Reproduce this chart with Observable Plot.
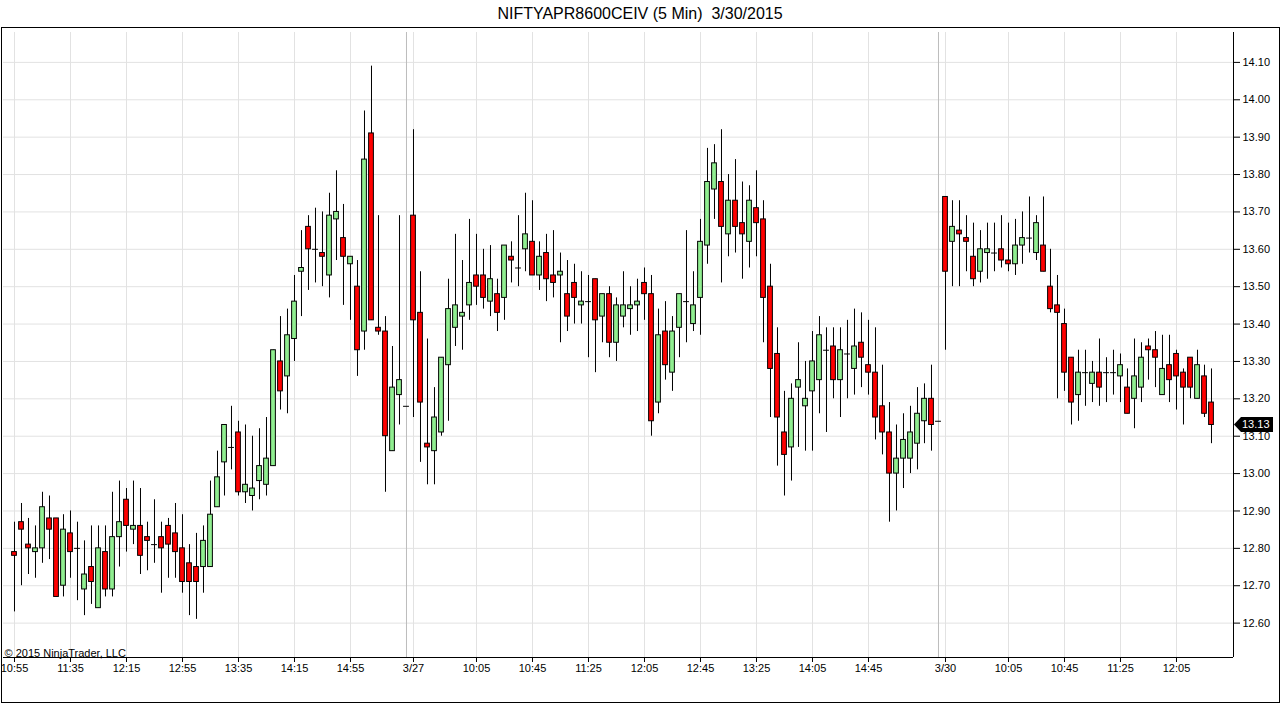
<!DOCTYPE html>
<html>
<head>
<meta charset="utf-8">
<script src="https://cdn.jsdelivr.net/npm/d3@7"></script>
<script src="https://cdn.jsdelivr.net/npm/@observablehq/plot@0.6"></script>
<style>
  html, body { margin: 0; padding: 0; background: #fff; }
  #wrap { position: relative; width: 1280px; height: 703px; overflow: hidden; font-family: Arial, "Liberation Sans", sans-serif; }
  #title { position: absolute; left: 0; top: 0; width: 1280px; height: 27px; line-height: 28px; text-align: center; font-size: 16px; color: #000; white-space: pre; }
  #frame { position: absolute; left: 1px; top: 27px; width: 1277px; height: 674px; border: 1px solid #000; pointer-events: none; }
  #chart { position: absolute; left: 0; top: 27px; }
  #chart svg { display: block; }
</style>
</head>
<body>
<div id="wrap">
  <div id="title">NIFTYAPR8600CEIV (5 Min)  3/30/2015</div>
  <div id="chart"></div>
  <div id="frame"></div>
</div>
<script>
// ---- Data ----
const opens = [
  12.79,12.87,12.81,12.79,12.80,12.88,12.88,12.70,12.84,12.80,12.69,12.75,12.64,12.79,12.69,12.83,12.93,12.85,12.86,12.83,
  12.81,12.83,12.86,12.84,12.80,12.76,12.75,12.75,12.75,12.91,13.03,13.07,13.11,12.95,12.94,12.98,12.97,13.02,13.30,13.26,
  13.36,13.54,13.66,13.60,13.59,13.53,13.68,13.63,13.56,13.50,13.38,13.91,13.39,13.38,13.06,13.21,13.18,13.69,13.43,13.08,
  13.06,13.11,13.29,13.39,13.42,13.45,13.53,13.53,13.46,13.48,13.47,13.58,13.55,13.60,13.62,13.53,13.59,13.53,13.53,13.48,
  13.51,13.45,13.46,13.52,13.42,13.48,13.35,13.42,13.44,13.45,13.51,13.48,13.19,13.38,13.27,13.39,13.46,13.40,13.47,13.61,
  13.76,13.78,13.64,13.73,13.67,13.62,13.71,13.68,13.50,13.32,13.11,13.07,13.23,13.18,13.22,13.25,13.33,13.34,13.25,13.32,
  13.28,13.35,13.29,13.27,13.18,13.11,13.00,13.04,13.04,13.08,13.14,13.20,13.14,13.74,13.62,13.65,13.63,13.58,13.54,13.59,
  13.59,13.60,13.57,13.56,13.61,13.63,13.59,13.61,13.50,13.45,13.40,13.31,13.21,13.27,13.24,13.27,13.27,13.27,13.26,13.23,
  13.20,13.23,13.34,13.33,13.21,13.29,13.32,13.27,13.31,13.20,13.26,13.19
];
const highs = [
  12.87,12.92,12.88,12.86,12.95,12.94,12.88,12.89,12.90,12.87,12.82,12.86,12.86,12.86,12.95,12.98,12.96,12.98,12.96,12.87,
  12.93,12.87,12.88,12.92,12.89,12.81,12.84,12.86,12.98,13.06,13.13,13.18,13.14,13.13,13.10,13.12,13.15,13.33,13.42,13.44,
  13.53,13.65,13.69,13.71,13.70,13.75,13.81,13.72,13.58,13.57,13.97,14.09,13.69,13.42,13.34,13.69,13.18,13.92,13.54,13.36,
  13.23,13.31,13.52,13.64,13.57,13.68,13.64,13.60,13.61,13.52,13.61,13.62,13.69,13.75,13.73,13.62,13.64,13.65,13.59,13.57,
  13.56,13.54,13.53,13.52,13.48,13.50,13.47,13.54,13.50,13.52,13.55,13.53,13.44,13.46,13.42,13.48,13.65,13.54,13.68,13.87,
  13.88,13.92,13.80,13.84,13.78,13.77,13.81,13.73,13.56,13.39,13.22,13.24,13.35,13.30,13.38,13.42,13.39,13.39,13.39,13.41,
  13.44,13.43,13.41,13.39,13.29,13.19,13.13,13.16,13.18,13.23,13.24,13.29,13.14,13.74,13.73,13.73,13.69,13.67,13.65,13.67,
  13.67,13.69,13.67,13.68,13.70,13.74,13.69,13.74,13.60,13.53,13.44,13.31,13.33,13.33,13.30,13.36,13.31,13.33,13.32,13.28,
  13.36,13.35,13.36,13.38,13.37,13.37,13.33,13.28,13.31,13.33,13.29,13.28
];
const lows = [
  12.63,12.70,12.73,12.72,12.76,12.77,12.67,12.67,12.72,12.66,12.62,12.65,12.64,12.67,12.67,12.75,12.79,12.81,12.73,12.74,
  12.76,12.68,12.72,12.72,12.68,12.62,12.61,12.68,12.75,12.91,12.94,13.01,12.94,12.92,12.90,12.93,12.94,13.02,13.17,13.16,
  13.30,13.42,13.49,13.51,13.50,13.47,13.57,13.45,13.41,13.26,13.33,13.41,13.37,12.95,13.06,13.13,13.18,13.15,13.03,12.97,
  12.97,13.10,13.14,13.34,13.33,13.41,13.45,13.44,13.42,13.38,13.41,13.51,13.50,13.54,13.53,13.49,13.46,13.47,13.35,13.38,
  13.40,13.40,13.31,13.27,13.35,13.31,13.30,13.39,13.37,13.38,13.41,13.10,13.16,13.25,13.22,13.31,13.35,13.38,13.37,13.56,
  13.68,13.51,13.58,13.59,13.52,13.55,13.58,13.35,13.15,13.02,12.94,12.98,13.07,13.06,13.06,13.16,13.11,13.20,13.15,13.20,
  13.21,13.23,13.21,13.09,13.05,12.87,12.90,12.96,13.00,13.01,13.08,13.06,13.14,13.33,13.50,13.50,13.54,13.50,13.51,13.52,
  13.54,13.55,13.54,13.53,13.56,13.59,13.57,13.54,13.43,13.20,13.22,13.13,13.14,13.18,13.19,13.18,13.19,13.21,13.19,13.16,
  13.12,13.19,13.25,13.23,13.21,13.19,13.17,13.13,13.20,13.20,13.15,13.08
];
const closes = [
  12.78,12.85,12.80,12.80,12.91,12.85,12.67,12.85,12.79,12.80,12.73,12.71,12.80,12.69,12.83,12.87,12.86,12.86,12.78,12.82,
  12.81,12.80,12.81,12.79,12.71,12.71,12.71,12.82,12.89,12.99,13.13,13.07,12.95,12.97,12.96,13.02,13.04,13.33,13.22,13.37,
  13.46,13.55,13.60,13.60,13.58,13.69,13.70,13.58,13.58,13.33,13.84,13.41,13.38,13.10,13.23,13.25,13.18,13.41,13.19,13.07,
  13.15,13.31,13.44,13.45,13.43,13.51,13.50,13.47,13.52,13.43,13.61,13.57,13.55,13.64,13.53,13.58,13.52,13.51,13.54,13.42,
  13.47,13.46,13.46,13.41,13.48,13.35,13.45,13.45,13.45,13.46,13.48,13.14,13.37,13.29,13.38,13.48,13.46,13.45,13.62,13.78,
  13.83,13.66,13.73,13.66,13.64,13.73,13.67,13.47,13.28,13.15,13.05,13.20,13.25,13.20,13.30,13.37,13.33,13.25,13.33,13.32,
  13.34,13.31,13.27,13.15,13.11,13.00,13.04,13.09,13.11,13.16,13.20,13.13,13.14,13.54,13.66,13.64,13.62,13.52,13.60,13.60,
  13.59,13.57,13.56,13.61,13.63,13.63,13.67,13.54,13.44,13.43,13.27,13.19,13.27,13.27,13.27,13.23,13.27,13.27,13.29,13.16,
  13.26,13.31,13.33,13.31,13.28,13.25,13.26,13.23,13.23,13.29,13.16,13.13
];
// time-axis ticks: bar index -> label
const tickBars   = [0, 8, 16, 24, 32, 40, 48, 57, 66, 74, 82, 90, 98, 106, 114, 122, 133, 142, 150, 158, 166];
const tickLabels = ["10:55","11:35","12:15","12:55","13:35","14:15","14:55","3/27","10:05","10:45","11:25","12:05","12:45","13:25","14:05","14:45","3/30","10:05","10:45","11:25","12:05"];
// session-break bars
const sessionBreaks = [56, 132];
// price-axis ticks
const priceTicks = [12.60,12.70,12.80,12.90,13.00,13.10,13.20,13.30,13.40,13.50,13.60,13.70,13.80,13.90,14.00,14.10];
const lastPrice = 13.13;

// ---- Build table ----
const bars = opens.map((o, i) => ({i, o, h: highs[i], l: lows[i], c: closes[i]}));
const up = bars.filter(d => d.c > d.o);
const down = bars.filter(d => d.c < d.o);
const doji = bars.filter(d => d.c === d.o);
const labelMap = new Map(tickBars.map((b, k) => [b, tickLabels[k]]));

const xDomain = [-1.571, 174.143];
const yDomain = [12.508, 14.18];
const hw = 0.34;

const plot = Plot.plot({
  width: 1280,
  height: 676,
  marginLeft: 3,
  marginRight: 47,
  marginTop: 5,
  marginBottom: 46,
  style: {fontFamily: "Arial, 'Liberation Sans', sans-serif", fontSize: "11px", color: "#000", background: "transparent", overflow: "visible"},
  x: {domain: xDomain, ticks: tickBars, tickFormat: d => labelMap.get(d), tickSize: 5, tickPadding: 2, label: null},
  y: {domain: yDomain, axis: "right", ticks: priceTicks, tickFormat: d => d.toFixed(2), tickSize: 6, tickPadding: 3, label: null},
  marks: [
    Plot.ruleY(priceTicks, {stroke: "#e2e2e2"}),
    Plot.ruleX(tickBars, {stroke: "#e2e2e2"}),
    Plot.ruleX(sessionBreaks, {stroke: "#bdbdbd"}),
    Plot.text(["© 2015 NinjaTrader, LLC"], {frameAnchor: "bottom-left", textAnchor: "start", lineAnchor: "bottom", dx: 1, dy: -1, fontSize: 11, fill: "#000"}),
    Plot.ruleX(bars, {x: "i", y1: "l", y2: "h", stroke: "#000", strokeWidth: 1}),
    Plot.rect(up, {x1: d => d.i - hw, x2: d => d.i + hw, y1: "o", y2: "c", fill: "#90ee90", stroke: "#000", strokeWidth: 1}),
    Plot.rect(down, {x1: d => d.i - hw, x2: d => d.i + hw, y1: "c", y2: "o", fill: "#ff0000", stroke: "#000", strokeWidth: 1}),
    Plot.ruleY(doji, {y: "c", x1: d => d.i - 0.42, x2: d => d.i + 0.42, stroke: "#000", strokeWidth: 1}),
    Plot.ruleX([xDomain[1]], {stroke: "#000"}),
    Plot.ruleY([yDomain[0]], {stroke: "#000", x1: xDomain[0], x2: xDomain[1]})
  ]
});
document.getElementById("chart").appendChild(plot);

// last-price tag on the right axis, positioned with Plot's scales
const sx = plot.scale("x"), sy = plot.scale("y");
const ax = sx.apply(xDomain[1]);
const ay = sy.apply(lastPrice);
const ns = "http://www.w3.org/2000/svg";
const g = document.createElementNS(ns, "g");
const poly = document.createElementNS(ns, "polygon");
poly.setAttribute("points", `${ax+1},${ay} ${ax+8},${ay-7.5} ${ax+40},${ay-7.5} ${ax+40},${ay+7.5} ${ax+8},${ay+7.5}`);
poly.setAttribute("fill", "#000");
g.appendChild(poly);
const t = document.createElementNS(ns, "text");
t.setAttribute("x", ax + 9);
t.setAttribute("y", ay);
t.setAttribute("dy", "0.35em");
t.setAttribute("text-anchor", "start");
t.setAttribute("fill", "#fff");
t.setAttribute("font-size", "11");
t.textContent = lastPrice.toFixed(2);
g.appendChild(t);
plot.appendChild(g);
</script>
</body>
</html>
